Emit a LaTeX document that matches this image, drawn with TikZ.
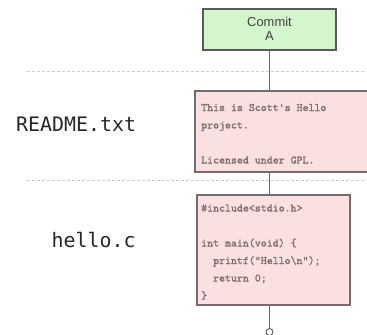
\documentclass[tikz,border=0pt]{standalone}
\usepackage{fontspec}
\setmainfont{Liberation Sans}
\newfontfamily\labelfont{DejaVu Sans Mono}
\newfontfamily\codefont[FakeBold=1.2]{lmmono10-regular.otf}
\usetikzlibrary{backgrounds}
\definecolor{greenfill}{HTML}{D4F5CD}
\definecolor{greenborder}{HTML}{555B55}
\definecolor{pinkfill}{HTML}{F9E0E1}
\definecolor{pinkborder}{HTML}{7A6A6B}
\definecolor{codetext}{HTML}{806C6D}
\definecolor{linegray}{HTML}{666666}
\definecolor{dashgray}{HTML}{CCCCCC}
\tikzset{
  commitbox/.style={draw=greenborder, fill=greenfill, line width=2pt, inner sep=0pt},
  filebox/.style={draw=pinkborder, fill=pinkfill, line width=2pt, inner sep=0pt},
  codeline/.style={anchor=base west, inner sep=0pt, text=codetext, font=\codefont\fontsize{11.4}{13}\selectfont},
  filelabel/.style={anchor=base west, inner sep=0pt, text=black!85, font=\labelfont\fontsize{20}{24}\selectfont},
  sepline/.style={draw=dashgray, line width=1pt, dash pattern=on 3pt off 2pt},
  stem/.style={draw=linegray, line width=1pt},
}
\begin{document}
\begin{tikzpicture}[x=1bp, y=-1bp]
\useasboundingbox (0,0) rectangle (367,335);
\clip (0,0) rectangle (367,335);
% separators
\coordinate (s1a) at (27,71.5);
\coordinate (s1b) at (367,71.5);
\coordinate (s2a) at (27,180);
\coordinate (s2b) at (367,180);
\draw[sepline] (s1a) -- (s1b);
\draw[sepline] (s2a) -- (s2b);
% commit
\node[commitbox, minimum width=133bp, minimum height=41bp] (commit) at (269.5,29.5) {};
\node[inner sep=0pt, text=black!75, font=\fontsize{13}{14}\selectfont, align=center] (ctext) at (269.5,29) {Commit\\A};
% end circle
\node[circle, draw=linegray, fill=white, line width=1pt, minimum size=7bp, inner sep=0pt] (end) at (269.5,332) {};
% file boxes
\node[filebox, minimum width=175bp, minimum height=81bp] (readme) at (282.5,131.5) {};
\node[filebox, minimum width=153bp, minimum height=110bp] (hello) at (273.5,250) {};
% stem line behind the boxes
\begin{scope}[on background layer]
\draw[stem] (commit.south) -- (end.north);
\end{scope}
% README contents
\node[codeline] (r1) at (201,111) {This is Scott's Hello};
\node[codeline] (r2) at (201,128.5) {project.};
\node[codeline] (r3) at (201,163.5) {Licensed under GPL.};
% hello.c contents
\node[codeline] (h1) at (201,211.5) {\#include<stdio.h>};
\node[codeline] (h2) at (201,246.5) {int main(void) \{};
\node[codeline] (h3) at (201,264) {\ \ printf("Hello\textbackslash n");};
\node[codeline] (h4) at (201,281.5) {\ \ return 0;};
\node[codeline] (h5) at (201,299) {\}};
% labels
\node[filelabel] (lreadme) at (16,131) {README.txt};
\node[filelabel] (lhello) at (51.5,247) {hello.c};
\end{tikzpicture}
\end{document}
